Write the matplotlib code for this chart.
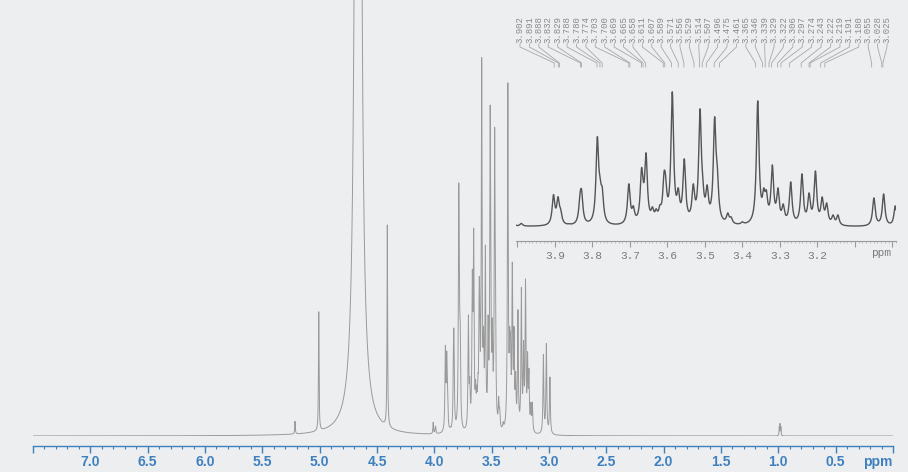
import numpy as np
import matplotlib
matplotlib.use("Agg")
import matplotlib.pyplot as plt
from matplotlib.ticker import MultipleLocator, FixedLocator, FixedFormatter

# ---------------- data ----------------
# peaks of the 3.0-4.0 ppm region (ppm, height in inset units)
peak_ppm = [3.990, 3.904, 3.892, 3.885, 3.862, 3.833, 3.829, 3.787, 3.780, 3.774,
            3.703, 3.691, 3.669, 3.665, 3.657, 3.640, 3.630, 3.620, 3.609, 3.605,
            3.587, 3.571, 3.555, 3.531, 3.513, 3.506, 3.494, 3.474, 3.467, 3.439,
            3.430, 3.400, 3.359, 3.343, 3.336, 3.320, 3.305, 3.291, 3.271, 3.241,
            3.222, 3.205, 3.187, 3.175, 3.158, 3.145, 3.049, 3.023, 2.992]
peak_height = [3, 32, 30, 18, 3, 34, 37, 90, 50, 40,
               43, 21, 59, 47, 74, 20, 18, 22, 55, 52,
               135, 39, 68, 43, 118, 52, 42, 110, 62, 14,
               10, 5, 126, 39, 37, 62, 39, 23, 45, 53,
               34, 56, 30, 24, 12, 12, 29, 33, 21]
# other signals of the full spectrum (ppm, height, half width)
other_ppm = [5.215, 5.008, 4.665, 4.410, 4.010, 0.992, 0.985, 0.978]
other_height = [4.5, 42.5, 1800, 72, 4, 3, 4, 3]
other_width = [0.003, 0.003, 0.011, 0.003, 0.003, 0.002, 0.002, 0.002]

main_ticks = [7.5, 7.0, 6.5, 6.0, 5.5, 5.0, 4.5, 4.0, 3.5, 3.0, 2.5, 2.0, 1.5, 1.0, 0.5, 0.0]
main_ticklabels = ["", "7.0", "6.5", "6.0", "5.5", "5.0", "4.5", "4.0", "3.5", "3.0",
                   "2.5", "2.0", "1.5", "1.0", "0.5", ""]
inset_ticks = [4.0, 3.9, 3.8, 3.7, 3.6, 3.5, 3.4, 3.3, 3.2, 3.1, 3.0]
inset_ticklabels = ["", "3.9", "3.8", "3.7", "3.6", "3.5", "3.4", "3.3", "3.2", "", ""]

shift_labels = ["3.902", "3.891", "3.888", "3.832", "3.829", "3.788", "3.780", "3.774",
                "3.703", "3.700", "3.669", "3.665", "3.658", "3.611", "3.607", "3.589",
                "3.571", "3.556", "3.529", "3.514", "3.507", "3.496", "3.475", "3.461",
                "3.365", "3.346", "3.339", "3.329", "3.322", "3.306", "3.297", "3.274",
                "3.243", "3.222", "3.219", "3.191", "3.180", "3.055", "3.028", "3.025"]

# ---------------- line shape ----------------
GAMMA = 0.0042
pp = np.array(peak_ppm)
hh = np.array(peak_height, dtype=float)
M = GAMMA**2 / ((pp[:, None] - pp[None, :])**2 + GAMMA**2)
amp = hh.copy()
for _ in range(300):
    amp = amp * hh / (M @ amp)

x = np.linspace(7.5, 0.0, 90001)
y = np.zeros_like(x)
for p, a in zip(pp, amp):
    y += a * GAMMA**2 / ((x - p)**2 + GAMMA**2)
for p, a, g in zip(other_ppm, other_height, other_width):
    y += a * g**2 / ((x - p)**2 + g**2)

MAIN_SCALE = 2.8
W, H = 908, 472
BG = "#eceef0"
BLUE = "#3f80bf"

fig = plt.figure(figsize=(W / 100, H / 100), dpi=100, facecolor=BG)

# ---------------- main spectrum ----------------
ax = fig.add_axes([33 / W, (H - 436) / H, 860 / W, 436 / H])
ax.set_facecolor("none")
ax.plot(x, y, color="#9a9a9a", lw=0.7)
ax.set_xlim(7.5, 0.0)
ax.set_ylim(0, 436 / MAIN_SCALE)
for s in ["top", "left", "right"]:
    ax.spines[s].set_visible(False)
ax.spines["bottom"].set_position(("outward", 7))
ax.spines["bottom"].set_color(BLUE)
ax.spines["bottom"].set_linewidth(1.0)
ax.set_yticks([])
ax.xaxis.set_major_locator(FixedLocator(main_ticks))
ax.xaxis.set_major_formatter(FixedFormatter(main_ticklabels))
ax.xaxis.set_minor_locator(MultipleLocator(0.1))
ax.tick_params(axis="x", which="major", direction="out", length=5, width=1.0,
               color=BLUE, labelcolor=BLUE, pad=2)
ax.tick_params(axis="x", which="minor", direction="out", length=2.5, width=0.8, color=BLUE)
for t in ax.get_xticklabels():
    t.set_fontfamily("Liberation Sans")
    t.set_fontweight("bold")
    t.set_fontsize(10)
fig.text((33 + (7.5 - 0.13) / 7.5 * 860) / W, 1 - 462 / H, "ppm", color=BLUE,
         fontfamily="Liberation Sans", fontweight="bold", fontsize=10,
         ha="center", va="center")

# ---------------- inset ----------------
X0, X1 = 516, 896
L0, L1 = 4.004, 2.99
ax2 = fig.add_axes([X0 / W, (H - 227) / H, (X1 - X0) / W, 150 / H])
ax2.set_facecolor("none")
m = (x <= L0) & (x >= L1)
ax2.plot(x[m], y[m], color="#555555", lw=1.0)
ax2.set_xlim(L0, L1)
ax2.set_ylim(0, 150)
for s in ["top", "left", "right"]:
    ax2.spines[s].set_visible(False)
ax2.spines["bottom"].set_position(("outward", 10))
ax2.spines["bottom"].set_color("#9a9a9a")
ax2.spines["bottom"].set_linewidth(0.8)
ax2.set_yticks([])
ax2.xaxis.set_major_locator(FixedLocator(inset_ticks))
ax2.xaxis.set_major_formatter(FixedFormatter(inset_ticklabels))
ax2.xaxis.set_minor_locator(MultipleLocator(0.01))
ax2.tick_params(axis="x", which="major", direction="out", length=4, width=0.8,
                color="#9a9a9a", labelcolor="#7a7a7a", pad=3)
ax2.tick_params(axis="x", which="minor", direction="out", length=1.5, width=0.5,
                color="#b0b0b0")
for t in ax2.get_xticklabels():
    t.set_fontfamily("Liberation Mono")
    t.set_fontsize(8)
fig.text((X0 + (L0 - 3.03) / (L0 - L1) * (X1 - X0)) / W, 1 - 253 / H, "ppm",
         color="#7a7a7a", fontfamily="Liberation Mono", fontsize=8,
         ha="center", va="center")

# ---------------- peak labels with connectors ----------------
n = len(shift_labels)
lx0, lx1 = 520, 887
for i, lab in enumerate(shift_labels):
    lx = lx0 + (lx1 - lx0) * i / (n - 1)
    tx = X0 + (L0 - float(lab)) / (L0 - L1) * (X1 - X0)
    fig.text(lx / W, 1 - 43 / H, lab, rotation=90, ha="center", va="bottom",
             fontfamily="Liberation Mono", fontsize=6.5, color="#8a8a8a")
    xs = np.array([lx, lx, tx, tx]) / W
    ys = 1 - np.array([44, 47, 63, 67]) / H
    fig.add_artist(plt.Line2D(xs, ys, color="#a8a8a8", lw=0.6))

fig.savefig("out.png", dpi=100, facecolor=BG)
